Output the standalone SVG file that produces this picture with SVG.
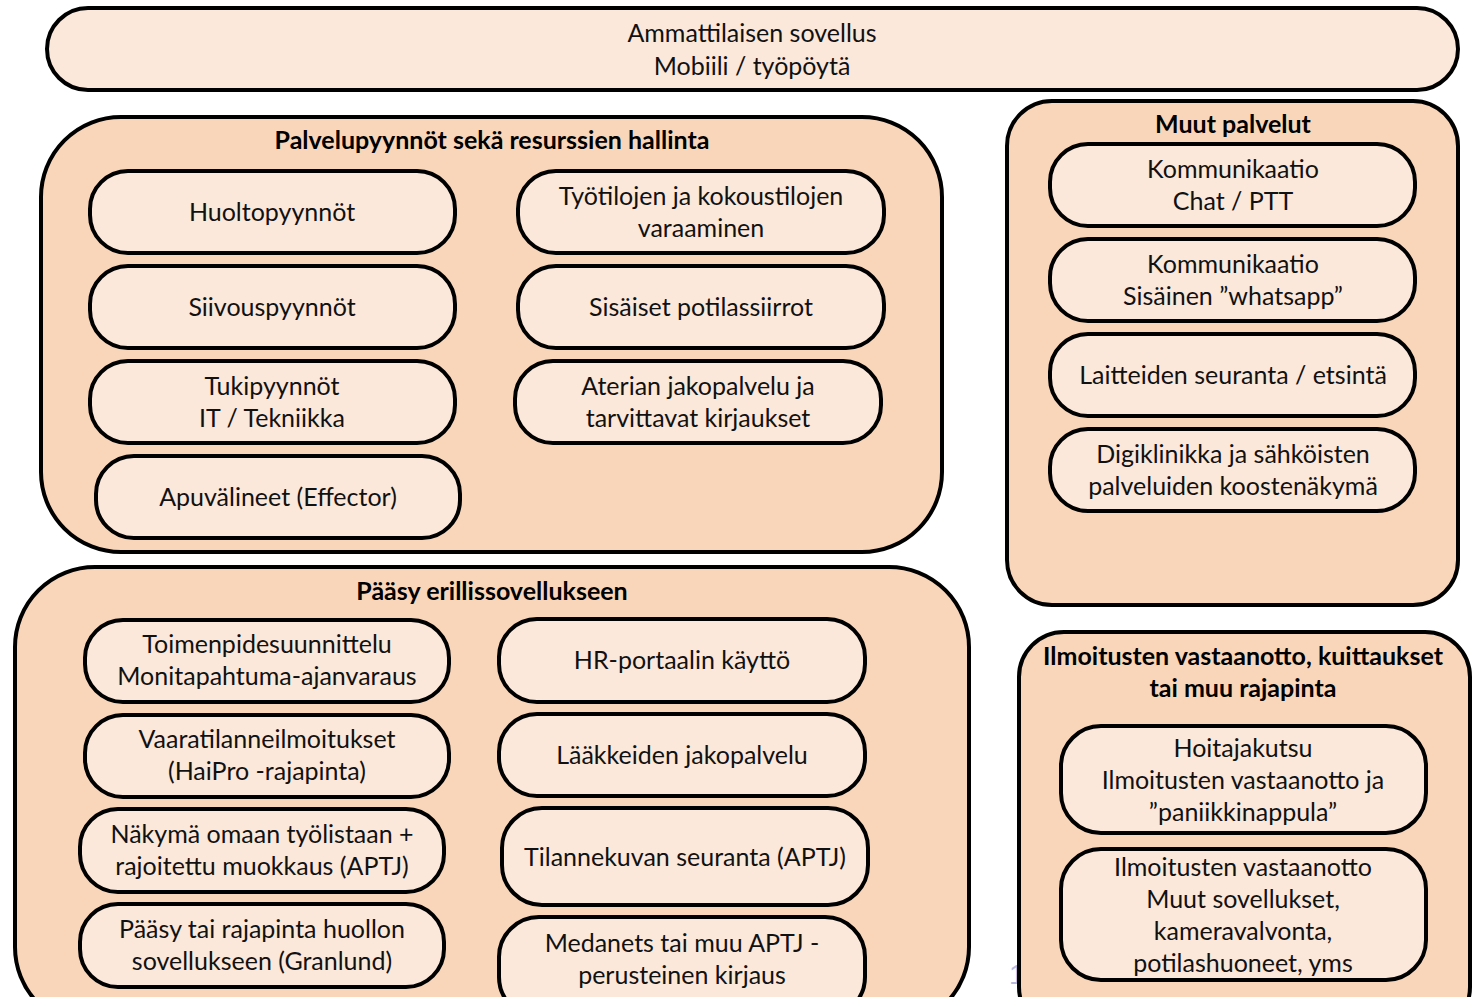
<svg xmlns="http://www.w3.org/2000/svg" width="1476" height="997" viewBox="0 0 1476 997">
<style>
.grp{fill:#f9d6ba;stroke:#000;stroke-width:4}
.box{fill:#fbe8db;stroke:#000;stroke-width:4}
.t{font-family:Lato,"Liberation Sans",sans-serif;font-size:25px;fill:#111;text-anchor:middle}
.h{font-family:Lato,"Liberation Sans",sans-serif;font-size:25px;font-weight:bold;fill:#000;text-anchor:middle}
.num{font-family:"Liberation Sans",sans-serif;font-size:28px;fill:#b7b7de}
</style>
<rect width="1476" height="997" fill="#fff"/>
<g id="top">
<rect class="box" x="47" y="8" width="1411" height="82" rx="41"/>
<text class="t" x="752" y="42">Ammattilaisen sovellus</text>
<text class="t" x="752" y="75">Mobiili / työpöytä</text>
</g>
<g id="palvelupyynnot">
<rect class="grp" x="41" y="117" width="901" height="435" rx="80"/>
<text class="h" x="492" y="149">Palvelupyynnöt sekä resurssien hallinta</text>
</g>
<g id="huolto"><rect class="box" x="90" y="171" width="365" height="82" rx="38"/><text class="t" x="272" y="221">Huoltopyynnöt</text></g>
<g id="siivous"><rect class="box" x="90" y="266" width="365" height="82" rx="38"/><text class="t" x="272" y="316">Siivouspyynnöt</text></g>
<g id="tuki"><rect class="box" x="90" y="361" width="365" height="82" rx="38"/><text class="t" x="272" y="395">Tukipyynnöt</text><text class="t" x="272" y="427">IT / Tekniikka</text></g>
<g id="apuv"><rect class="box" x="96" y="456" width="364" height="82" rx="38"/><text class="t" x="278" y="506">Apuvälineet (Effector)</text></g>
<g id="tyotilat"><rect class="box" x="518" y="171" width="366" height="82" rx="38"/><text class="t" x="701" y="205">Työtilojen ja kokoustilojen</text><text class="t" x="701" y="237">varaaminen</text></g>
<g id="siirrot"><rect class="box" x="518" y="266" width="366" height="82" rx="38"/><text class="t" x="701" y="316">Sisäiset potilassiirrot</text></g>
<g id="aterian"><rect class="box" x="515" y="361" width="366" height="82" rx="38"/><text class="t" x="698" y="395">Aterian jakopalvelu ja</text><text class="t" x="698" y="427">tarvittavat kirjaukset</text></g>

<g id="muut">
<rect class="grp" x="1007" y="101" width="451" height="504" rx="45"/>
<text class="h" x="1233" y="133">Muut palvelut</text>
</g>
<g id="chat"><rect class="box" x="1050" y="144" width="365" height="82" rx="38"/><text class="t" x="1233" y="178">Kommunikaatio</text><text class="t" x="1233" y="210">Chat / PTT</text></g>
<g id="whatsapp"><rect class="box" x="1050" y="239" width="365" height="82" rx="38"/><text class="t" x="1233" y="273">Kommunikaatio</text><text class="t" x="1233" y="305">Sisäinen ”whatsapp”</text></g>
<g id="laitteet"><rect class="box" x="1050" y="334" width="365" height="82" rx="38"/><text class="t" x="1233" y="384">Laitteiden seuranta / etsintä</text></g>
<g id="digi"><rect class="box" x="1050" y="429" width="365" height="82" rx="38"/><text class="t" x="1233" y="463">Digiklinikka ja sähköisten</text><text class="t" x="1233" y="495">palveluiden koostenäkymä</text></g>

<g id="paasy">
<rect class="grp" x="15" y="567" width="954" height="460" rx="80"/>
<text class="h" x="492" y="600">Pääsy erillissovellukseen</text>
</g>
<g id="toimenpide"><rect class="box" x="85" y="620" width="364" height="82" rx="38"/><text class="t" x="267" y="653">Toimenpidesuunnittelu</text><text class="t" x="267" y="685">Monitapahtuma-ajanvaraus</text></g>
<g id="vaara"><rect class="box" x="85" y="715" width="364" height="82" rx="38"/><text class="t" x="267" y="748">Vaaratilanneilmoitukset</text><text class="t" x="267" y="780">(HaiPro -rajapinta)</text></g>
<g id="nakyma"><rect class="box" x="80" y="809" width="364" height="83" rx="38"/><text class="t" x="262" y="843">Näkymä omaan työlistaan +</text><text class="t" x="262" y="875">rajoitettu muokkaus (APTJ)</text></g>
<g id="granlund"><rect class="box" x="80" y="904" width="364" height="83" rx="38"/><text class="t" x="262" y="938">Pääsy tai rajapinta huollon</text><text class="t" x="262" y="970">sovellukseen (Granlund)</text></g>
<g id="hr"><rect class="box" x="499" y="619" width="366" height="83" rx="38"/><text class="t" x="682" y="669">HR-portaalin käyttö</text></g>
<g id="laakkeet"><rect class="box" x="499" y="714" width="366" height="82" rx="38"/><text class="t" x="682" y="764">Lääkkeiden jakopalvelu</text></g>
<g id="tilanne"><rect class="box" x="502" y="808" width="366" height="97" rx="40"/><text class="t" x="685" y="866">Tilannekuvan seuranta (APTJ)</text></g>
<g id="medanets"><rect class="box" x="499" y="917" width="366" height="100" rx="40"/><text class="t" x="682" y="952">Medanets tai muu APTJ -</text><text class="t" x="682" y="984">perusteinen kirjaus</text></g>

<text class="num" x="1009" y="984">1</text>

<g id="ilmoitukset">
<rect class="grp" x="1019" y="632" width="451" height="400" rx="45"/>
<text class="h" x="1243" y="665">Ilmoitusten vastaanotto, kuittaukset</text>
<text class="h" x="1243" y="697">tai muu rajapinta</text>
</g>
<g id="hoitaja"><rect class="box" x="1061" y="726" width="365" height="107" rx="40"/><text class="t" x="1243" y="757">Hoitajakutsu</text><text class="t" x="1243" y="789">Ilmoitusten vastaanotto ja</text><text class="t" x="1243" y="821">”paniikkinappula”</text></g>
<g id="muutsov"><rect class="box" x="1061" y="849" width="365" height="131" rx="40"/><text class="t" x="1243" y="876">Ilmoitusten vastaanotto</text><text class="t" x="1243" y="908">Muut sovellukset,</text><text class="t" x="1243" y="940">kameravalvonta,</text><text class="t" x="1243" y="972">potilashuoneet, yms</text></g>
<g id="connectors"></g>
</svg>
